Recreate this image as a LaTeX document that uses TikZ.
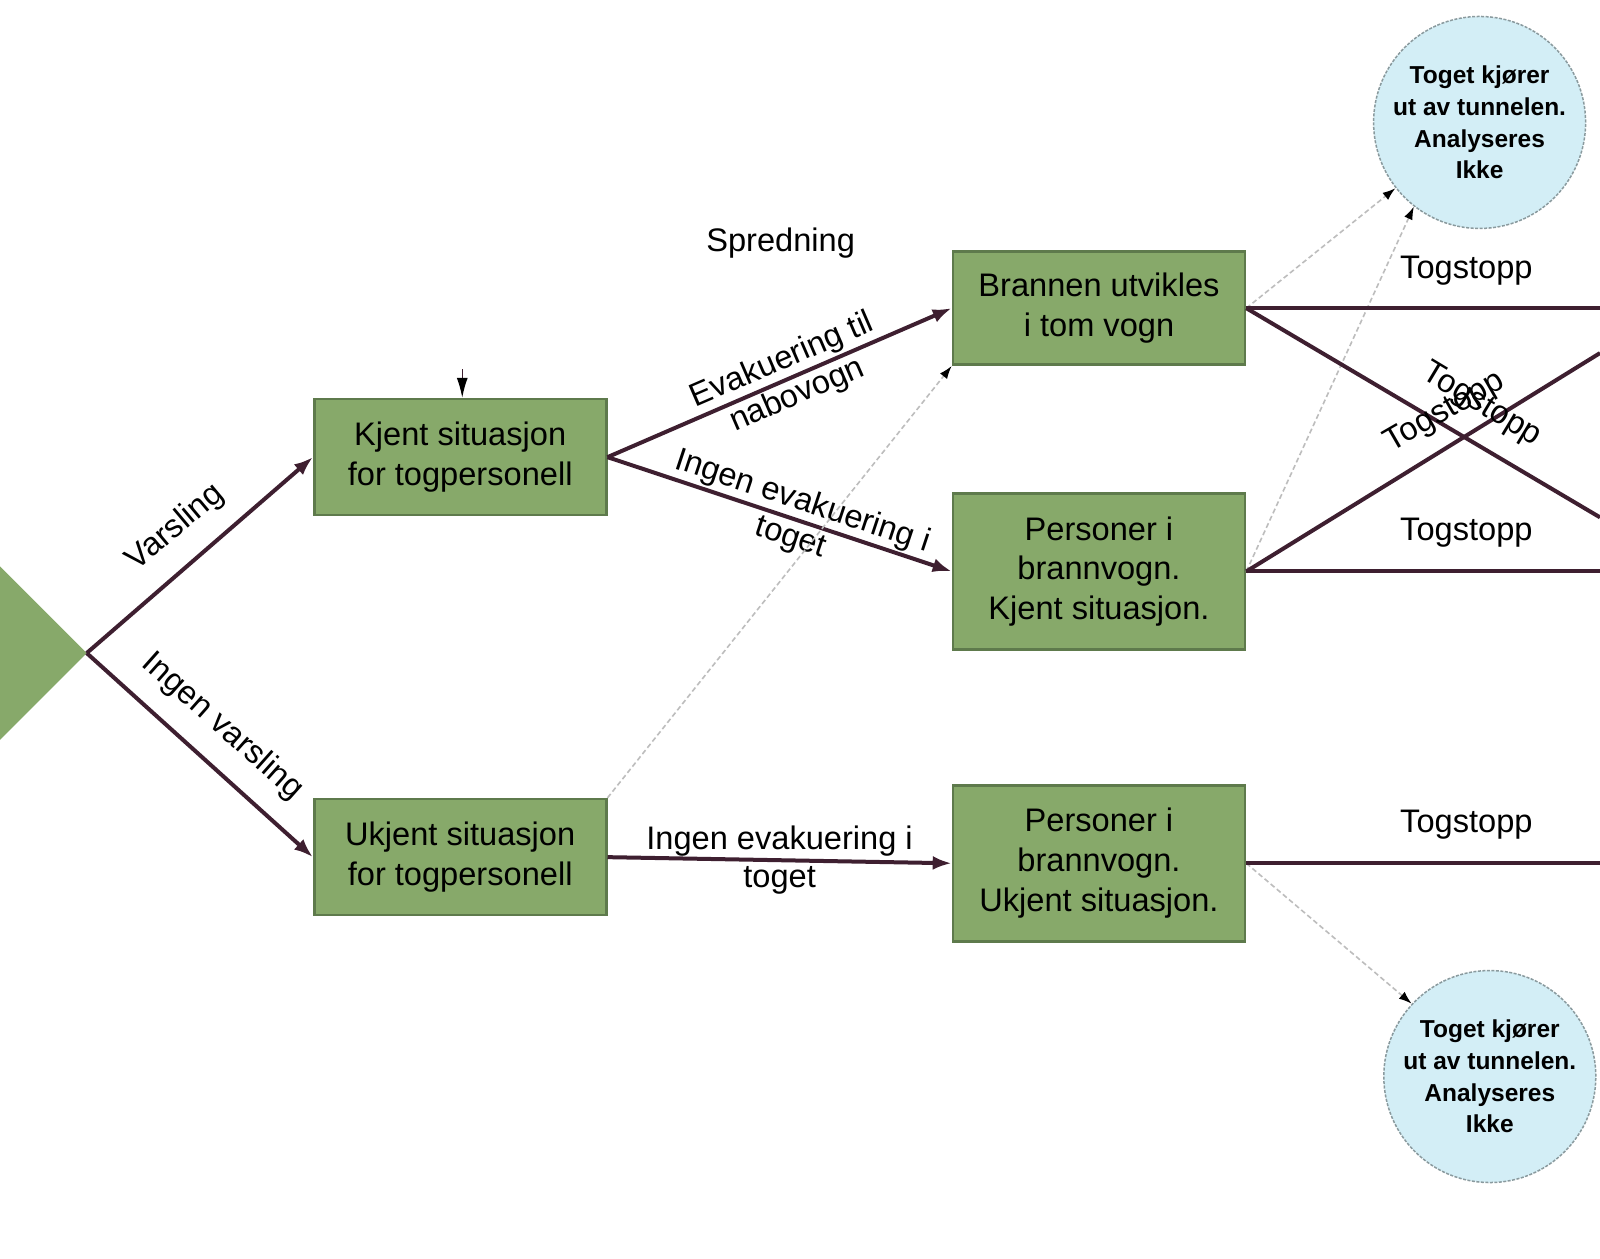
\documentclass[tikz,border=0pt]{standalone}
\usepackage{fontspec}
\setmainfont{Liberation Sans}
\usetikzlibrary{arrows.meta,shapes.geometric}
\definecolor{boxgreen}{HTML}{87A96A}
\definecolor{boxedge}{HTML}{5E7A4C}
\definecolor{linec}{HTML}{3E1F30}
\definecolor{circfill}{HTML}{D3EEF6}
\definecolor{circedge}{HTML}{8A9A9E}
\definecolor{dotc}{HTML}{BDBDBD}
\begin{document}
\begin{tikzpicture}[x=1.0204pt,y=-1.0204pt,
  txt/.style={font=\fontsize{32.6}{39.8}\selectfont, align=center, inner sep=0pt},
  stepbox/.style={txt, draw=boxedge, line width=2.6pt, fill=boxgreen, minimum width=292pt, minimum height=116pt},
  tallbox/.style={stepbox, minimum height=156pt},
  endcirc/.style={circle, draw=circedge, dash pattern=on 3pt off 1.5pt, line width=1.5pt, fill=circfill, minimum size=212pt, inner sep=0pt, font=\bfseries\fontsize{24.5}{31.6}\selectfont, align=center},
  flow/.style={draw=linec, line width=4pt, -{Latex[length=19pt,width=14pt]}},
  plainline/.style={draw=linec, line width=4pt},
  faint/.style={draw=dotc, line width=1.6pt, dash pattern=on 5pt off 3pt, -{Latex[length=13pt,width=9pt,color=black]}},
  lab/.style={font=\fontsize{32.6}{37.8}\selectfont, align=center, inner sep=0pt}
]
\useasboundingbox (0,0) rectangle (1568,1233.8);
\clip (0,0) rectangle (1568,1233.8);
\fill[white] (0,0) rectangle (1568,1233.8);

% start diamond (cut by the left edge)
\fill[boxgreen] (85,640) -- (-30,525) -- (-145,640) -- (-30,755) -- cycle;
\coordinate (D) at (85,640);

% boxes
\node[stepbox] (K)  at (451,448) {Kjent situasjon\\for togpersonell};
\node[stepbox] (U)  at (451,840) {Ukjent situasjon\\for togpersonell};
\node[stepbox, minimum height=113pt] (B)  at (1077,302) {Brannen utvikles\\i tom vogn};
\node[tallbox] (P1) at (1077,560) {Personer i\\brannvogn.\\Kjent situasjon.};
\node[tallbox] (P2) at (1077,846) {Personer i\\brannvogn.\\Ukjent situasjon.};

% end circles
\node[endcirc] (C1) at (1450,120) {Toget kjører\\ut av tunnelen.\\Analyseres\\Ikke};
\node[endcirc] (C2) at (1460,1055) {Toget kjører\\ut av tunnelen.\\Analyseres\\Ikke};

% right edge free ends
\coordinate (R) at (1568,0);
\coordinate (Xd) at (1568,507);
\coordinate (Xu) at (1568,346);

% main arrows
\draw[flow] (D) -- (K.west);
\draw[flow] (D) -- (U.west);
\draw[flow] (K.east) -- (B.west)
  node[lab, sloped, pos=0.53] (Levak) {Evakuering til\\nabovogn};
\draw[flow] (K.east) -- (P1.west)
  node[lab, sloped, pos=0.55] (Lingen1) {Ingen evakuering i\\toget};
\draw[flow] (U.east) -- (P2.west)
  node[lab, pos=0.5] (Lingen2) {Ingen evakuering i\\toget};

% labels
\node[lab, rotate=40] (Lvar) at (172,517) {Varsling};
\node[lab, rotate=-41.6] (Lnovar) at (218,712) {Ingen varsling};
\node[lab] (Lspr) at (765,238) {Spredning};

% small arrow at top of Kjent
\coordinate (tick) at (453,362);
\draw[linec, line width=1.5pt, -{Latex[length=20pt,width=11pt,color=black]}] (tick) -- (tick |- K.north);

% faint dashed arrows
\draw[faint] (U.north east) -- (B.south west);
\draw[faint] (B.east) -- (C1.218);
\draw[faint] (P1.east) -- (C1.232);
\draw[faint] (P2.east) -- (C2.137);

% togstopp lines
\draw[plainline] (B.east) -- (B.east -| R);
\draw[plainline] (B.east) -- (Xd);
\draw[plainline] (P1.east) -- (P1.east -| R);
\draw[plainline] (P1.east) -- (Xu);
\draw[plainline] (P2.east) -- (P2.east -| R);

\node[lab] (T1) at (1437,265) {Togstopp};
\node[lab] (T2) at (1437,522) {Togstopp};
\node[lab] (T3) at (1437,808) {Togstopp};
\node[lab, rotate=-31] (T4) at (1452,397) {Togstopp};
\node[lab, rotate=30] (T5) at (1416,404) {Togstopp};
\end{tikzpicture}
\end{document}
